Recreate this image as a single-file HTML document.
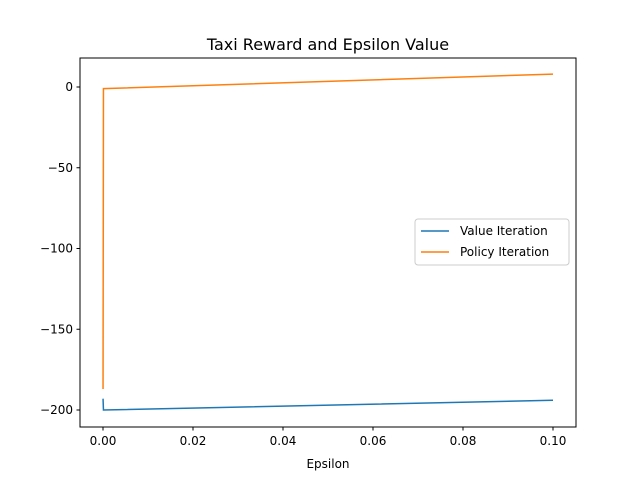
<!DOCTYPE html>
<html><head><meta charset="utf-8"><style>
body{margin:0;background:#fff}
text{font-family:"DejaVu Sans","Liberation Sans",sans-serif}
</style></head><body>
<svg id="c" width="640" height="480" xmlns="http://www.w3.org/2000/svg">
<rect width="640" height="480" fill="#fff"/>
<text x="328" y="50" font-size="16" text-anchor="middle">Taxi Reward and Epsilon Value</text>
<g id="plot"></g>
<rect x="80" y="58" width="496" height="369" fill="none" stroke="#000" stroke-width="1"/>
<text x="328" y="468" font-size="12" text-anchor="middle">Epsilon</text>
<g>
<rect x="415" y="219" width="154" height="46" rx="3" fill="#fff" fill-opacity="0.8" stroke="#ccc"/>
<line x1="421" y1="231" x2="449" y2="231" stroke="#1f77b4" stroke-width="1.5"/>
<text x="460" y="235" font-size="12">Value Iteration</text>
<line x1="421" y1="252" x2="449" y2="252" stroke="#ff7f0e" stroke-width="1.5"/>
<text x="460" y="256" font-size="12">Policy Iteration</text>
</g>
</svg>
<script>
const epsilons=[0.00001,0.0001,0.1];
const valueIter=[-193,-200,-194];
const policyIter=[-187,-1,8];
const xTicks=[0,0.02,0.04,0.06,0.08,0.10];
const xTickLabels=["0.00","0.02","0.04","0.06","0.08","0.10"];
const yTicks=[0,-50,-100,-150,-200];
const yTickLabels=["0","\u221250","\u2212100","\u2212150","\u2212200"];
function xs(v){return 103+v*4500;}
function ys(v){return 87-v*1.615;}
const ns="http://www.w3.org/2000/svg";
const g=document.getElementById('plot');
function mk(t,a){const e=document.createElementNS(ns,t);for(const k in a)e.setAttribute(k,a[k]);g.appendChild(e);return e;}
xTicks.forEach((v,i)=>{
 const l=mk('line',{x1:xs(v),x2:xs(v),y1:427,y2:430.5,stroke:'#000'});
 
 
 const t=mk('text',{x:xs(v),y:445,'font-size':12,'text-anchor':'middle'});t.textContent=xTickLabels[i];
 
 
});
yTicks.forEach((v,i)=>{
 const l=mk('line',{x1:76.5,x2:80,y1:ys(v),y2:ys(v),stroke:'#000'});
 
 
 const t=mk('text',{x:73,y:ys(v)+4,'font-size':12,'text-anchor':'end'});t.textContent=yTickLabels[i];
 
 
});
function line(vals,color,name){
 const p=mk('polyline',{points:epsilons.map((e,i)=>xs(e)+','+ys(vals[i])).join(' '),fill:'none',stroke:color,'stroke-width':1.5});
 
 
}
line(valueIter,'#1f77b4','value-iteration-line');
line(policyIter,'#ff7f0e','policy-iteration-line');
</script>
</body></html>
